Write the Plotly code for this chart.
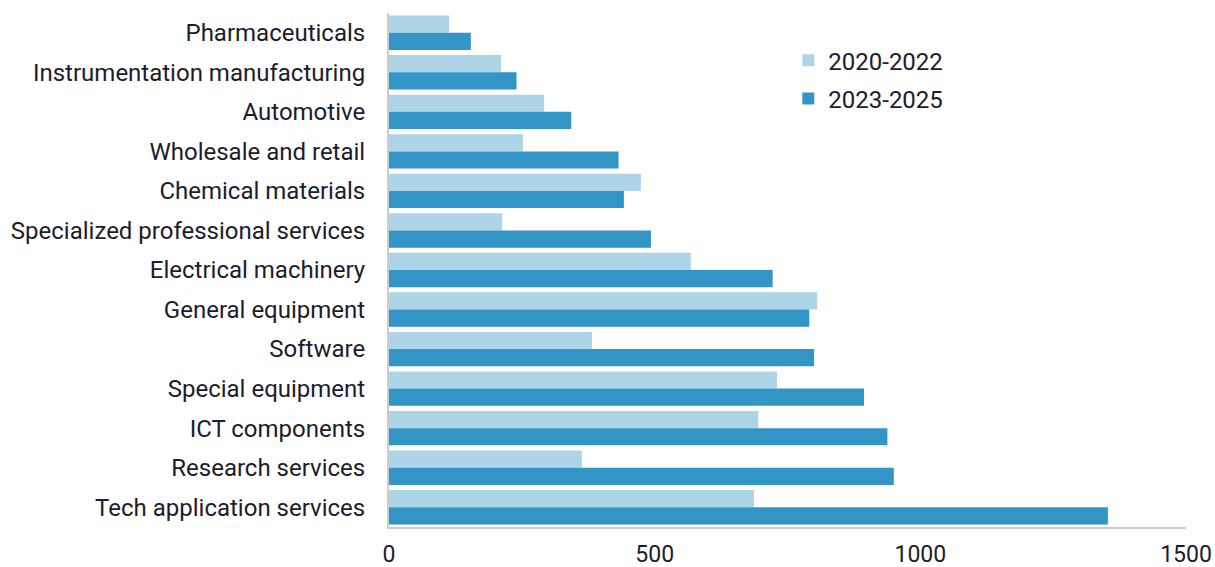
import plotly.graph_objects as go

# Sectors, listed top to bottom
sectors = [
    "Pharmaceuticals",
    "Instrumentation manufacturing",
    "Automotive",
    "Wholesale and retail",
    "Chemical materials",
    "Specialized professional services",
    "Electrical machinery",
    "General equipment",
    "Software",
    "Special equipment",
    "ICT components",
    "Research services",
    "Tech application services",
]

period_early = "2020-2022"
period_late = "2023-2025"

values_early = [113, 211, 292, 252, 474, 213, 568, 806, 382, 730, 695, 363, 687]
values_late = [154, 240, 343, 432, 442, 493, 722, 791, 800, 894, 938, 950, 1353]

x_ticks = [0, 500, 1000, 1500]

LIGHT = "#aed4e8"
DARK = "#3394c6"
TEXT = "#1c1c2b"
AXIS = "#cccccc"
FONT = "Roboto, 'Noto Sans', sans-serif"

fig = go.Figure()
fig.add_trace(go.Bar(
    y=sectors, x=values_early, name=period_early, orientation="h",
    marker=dict(color=LIGHT, line=dict(width=0)), legendgroup="a",
))
fig.add_trace(go.Bar(
    y=sectors, x=values_late, name=period_late, orientation="h",
    marker=dict(color=DARK, line=dict(width=0)), legendgroup="b",
))

fig.update_layout(
    width=1215, height=567,
    margin=dict(l=389, r=29, t=13, b=40),
    paper_bgcolor="white", plot_bgcolor="white",
    barmode="group", bargap=0.13, bargroupgap=0,
    font=dict(family=FONT, size=24, color=TEXT),
    showlegend=True,
    legend=dict(
        x=0.501, y=0.951, xanchor="left", yanchor="top",
        bgcolor="rgba(0,0,0,0)", font=dict(size=24, color=TEXT),
        traceorder="grouped", tracegroupgap=4, itemwidth=30,
    ),
    xaxis=dict(
        range=[0, 1500], tickvals=x_ticks, ticktext=[str(v) for v in x_ticks],
        showgrid=False, zeroline=False, showline=True, linecolor=AXIS, linewidth=2,
        ticks="", ticklabelstandoff=5, fixedrange=True, automargin=False,
        tickfont=dict(size=23),
    ),
    yaxis=dict(
        autorange="reversed", showgrid=False, zeroline=False,
        showline=True, linecolor=AXIS, linewidth=2,
        ticks="", ticklabelstandoff=17, fixedrange=True, automargin=False,
    ),
)

fig.write_html("out.html")
